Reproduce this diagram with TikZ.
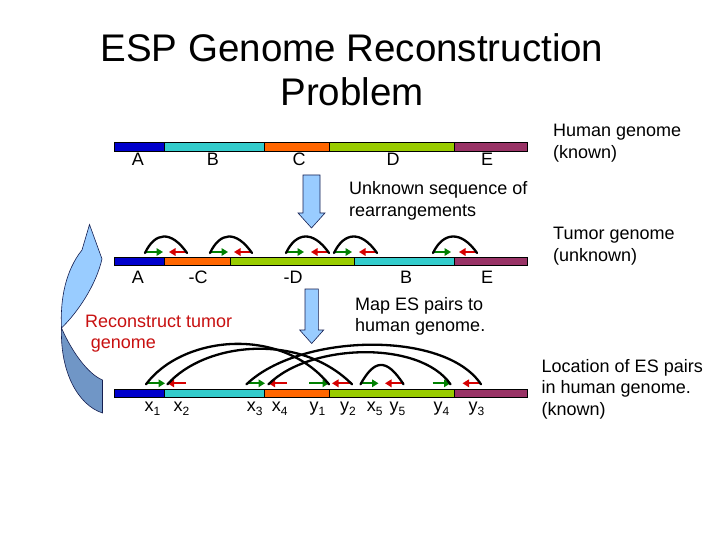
\documentclass[tikz,border=0pt]{standalone}
\usepackage{fontspec}
\setmainfont{Liberation Sans}
\usetikzlibrary{arrows.meta}
\definecolor{cA}{RGB}{0,0,204}
\definecolor{cB}{RGB}{51,204,204}
\definecolor{cC}{RGB}{255,102,0}
\definecolor{cD}{RGB}{153,204,0}
\definecolor{cE}{RGB}{153,51,102}
\definecolor{esgreen}{RGB}{0,128,0}
\definecolor{esred}{RGB}{214,0,0}
\definecolor{txtred}{RGB}{200,16,16}
\definecolor{arrowlight}{RGB}{153,204,255}
\definecolor{arrowdark}{RGB}{112,150,198}
\definecolor{arrowline}{RGB}{20,30,80}
\newcommand\esub[1]{\raisebox{-4.5pt}{\fontsize{12}{12}\selectfont #1}}
\tikzset{
  title/.style={font=\fontsize{38.5}{46}\selectfont, anchor=base, inner sep=0pt},
  lbl/.style={font=\fontsize{18}{21.6}\selectfont, anchor=base, inner sep=0pt},
  txt/.style={font=\fontsize{18}{21.6}\selectfont, anchor=base west, inner sep=0pt},
  seg/.style={draw=black, line width=0.6pt},
  gar/.style={draw=esgreen, line width=2.2pt, -{Triangle[length=6.5pt,width=7.5pt]}},
  rar/.style={draw=esred, line width=2.2pt, -{Triangle[length=6.5pt,width=7.5pt]}},
  esarc/.style={draw=black, line width=2.3pt, line cap=round},
  downarrow/.style={fill=arrowlight, draw=arrowline, line width=0.6pt},
}
\begin{document}
\begin{tikzpicture}[x=1pt,y=-1pt]
\useasboundingbox[fill=white] (0,0) rectangle (720,540);

% title
\node[title] (t1) at (352,62) {ESP Genome Reconstruction};
\node[title] (t2) at (352,105.5) {Problem};

% ---------- row 1: human genome ----------
\path[seg, fill=cA] (114,142.5) rectangle (164,151.5);
\path[seg, fill=cB] (164,142.5) rectangle (264,151.5);
\path[seg, fill=cC] (264,142.5) rectangle (329,151.5);
\path[seg, fill=cD] (329,142.5) rectangle (454,151.5);
\path[seg, fill=cE] (454,142.5) rectangle (527,151.5);
\node[lbl] (l1a) at (138,166) {A};
\node[lbl] (l1b) at (213,166) {B};
\node[lbl] (l1c) at (299,166) {C};
\node[lbl] (l1d) at (393,166) {D};
\node[lbl] (l1e) at (487,166) {E};

\node[txt] (hg1) at (553,137) {Human genome};
\node[txt] (hg2) at (553,158.6) {(known)};

% down arrow 1
\path[downarrow] (303,175) -- (320,175) -- (320,213) -- (325,213) -- (311.5,228)
  -- (298,213) -- (303,213) -- cycle;
\node[txt] (us1) at (349,195) {Unknown sequence of};
\node[txt] (us2) at (349,216) {rearrangements};

% ---------- row 2: tumor genome ----------
\path[seg, fill=cA] (114,257) rectangle (164,265.5);
\path[seg, fill=cC] (164,257) rectangle (230,265.5);
\path[seg, fill=cD] (230,257) rectangle (354,265.5);
\path[seg, fill=cB] (354,257) rectangle (454,265.5);
\path[seg, fill=cE] (454,257) rectangle (527,265.5);
\node[lbl] (l2a) at (138,283) {A};
\node[lbl] (l2c) at (198,283) {-C};
\node[lbl] (l2d) at (293,283) {-D};
\node[lbl] (l2b) at (406,283) {B};
\node[lbl] (l2e) at (487,283) {E};

\node[txt] (tg1) at (553,240) {Tumor genome};
\node[txt] (tg2) at (553,261.6) {(unknown)};

% ES pairs on tumor genome
\foreach \i/\g/\r in {1/145/169, 2/210/234, 3/286/311, 4/334/359, 5/433/459}{
  \coordinate (tg\i s) at (\g,252);
  \coordinate (tg\i e) at ({\g+18},252);
  \coordinate (tr\i s) at ({\r+18},252);
  \coordinate (tr\i e) at (\r,252);
  \draw[gar] (tg\i s) -- (tg\i e);
  \draw[rar] (tr\i s) -- (tr\i e);
  \draw[esarc] ([yshift=-1pt]tg\i s) .. controls +(10,-21) and +(-16,-23) .. ([yshift=-1pt]tr\i s);
}

% down arrow 2
\path[downarrow] (305,289) -- (318.4,289) -- (318.4,330) -- (323.7,330) -- (311.7,343.5)
  -- (299.7,330) -- (305,330) -- cycle;
\node[txt] (mp1) at (355,310) {Map ES pairs to};
\node[txt] (mp2) at (355,331.6) {human genome.};

% ---------- curved arrow ----------
\path[fill=arrowdark, draw=arrowline, line width=0.6pt]
  (61.5,328) .. controls (60,372) and (78,405) .. (102.5,413) -- (102.5,380)
  .. controls (88,374) and (72,352) .. (61.5,328) -- cycle;
\path[fill=arrowlight, draw=arrowline, line width=0.6pt]
  (89.5,224.5) -- (102,259) .. controls (96,285) and (78,312) .. (61.5,328)
  .. controls (60,298) and (66,270) .. (82,250) -- cycle;
\node[txt, text=txtred] (rc1) at (85,327) {Reconstruct tumor};
\node[txt, text=txtred] (rc2) at (90.7,348.6) {genome};

% ---------- row 3: ES pair locations ----------
\path[seg, fill=cA] (114,389.5) rectangle (164,397.5);
\path[seg, fill=cB] (164,389.5) rectangle (264,397.5);
\path[seg, fill=cC] (264,389.5) rectangle (329,397.5);
\path[seg, fill=cD] (329,389.5) rectangle (454,397.5);
\path[seg, fill=cE] (454,389.5) rectangle (527,397.5);

\coordinate (x1s) at (146,383.3);   \coordinate (x1e) at (165,383.3);
\coordinate (x2s) at (186,383.3);   \coordinate (x2e) at (167.5,383.3);
\coordinate (x3s) at (246.5,383.3); \coordinate (x3e) at (265,383.3);
\coordinate (x4s) at (287,383.3);   \coordinate (x4e) at (268.5,383.3);
\coordinate (y1s) at (309,383.3);   \coordinate (y1e) at (329,383.3);
\coordinate (y2s) at (352,383.3);   \coordinate (y2e) at (332,383.3);
\coordinate (x5s) at (360.5,383.3); \coordinate (x5e) at (378.5,383.3);
\coordinate (y5s) at (403.5,383.3); \coordinate (y5e) at (385,383.3);
\coordinate (y4s) at (432.5,383.3); \coordinate (y4e) at (450.5,383.3);
\coordinate (y3s) at (481,383.3);   \coordinate (y3e) at (462.5,383.3);

\draw[gar] (x1s) -- (x1e);
\draw[rar] (x2s) -- (x2e);
\draw[gar] (x3s) -- (x3e);
\draw[rar] (x4s) -- (x4e);
\draw[gar] (y1s) -- (y1e);
\draw[rar] (y2s) -- (y2e);
\draw[gar] (x5s) -- (x5e);
\draw[rar] (y5s) -- (y5e);
\draw[gar] (y4s) -- (y4e);
\draw[rar] (y3s) -- (y3e);

\draw[esarc] ([yshift=-1pt]x1s) .. controls (182,336) and (280,325) .. ([yshift=-1pt]y1e);
\draw[esarc] ([yshift=-1pt]x2e) .. controls (205,342) and (300,332) .. ([yshift=-1pt]y2s);
\draw[esarc] ([yshift=-1pt]x3s) .. controls (300,333) and (445,330) .. ([yshift=-1pt]y3s);
\draw[esarc] ([yshift=-1pt]x4e) .. controls (310,343) and (420,340) .. ([yshift=-1pt]y4e);
\draw[esarc] ([yshift=-1pt]x5s) .. controls (374,360) and (386,357) .. ([yshift=-1pt]y5s);

\node[txt] (lx1) at (144.3,411) {x\esub{1}};
\node[txt] (lx2) at (173.3,411) {x\esub{2}};
\node[txt] (lx3) at (246.7,411) {x\esub{3}};
\node[txt] (lx4) at (271.7,411) {x\esub{4}};
\node[txt] (ly1) at (309.3,411) {y\esub{1}};
\node[txt] (ly2) at (340,411) {y\esub{2}};
\node[txt] (lx5) at (366.7,411) {x\esub{5}};
\node[txt] (ly5) at (389.3,411) {y\esub{5}};
\node[txt] (ly4) at (433.3,411) {y\esub{4}};
\node[txt] (ly3) at (468.3,411) {y\esub{3}};

\node[txt] (lc1) at (541.5,372) {Location of ES pairs};
\node[txt] (lc2) at (541.5,393.6) {in human genome.};
\node[txt] (lc3) at (541.5,415.2) {(known)};
\end{tikzpicture}
\end{document}
